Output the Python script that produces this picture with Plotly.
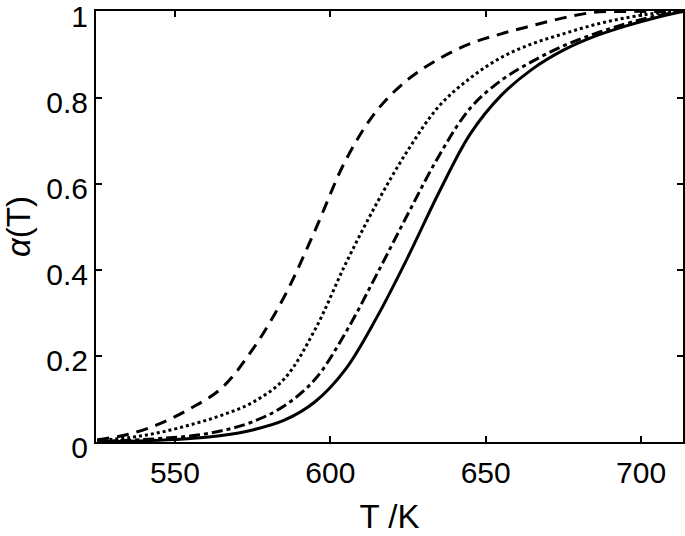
import plotly.graph_objects as go

# Temperature grid (K) and conversion alpha(T) for each curve
T = [525, 535, 545, 555, 565, 575, 585, 595, 605, 615, 625, 635, 645, 655, 665, 675, 685, 695, 705, 713.5]

alpha_dashed = [0.005, 0.018, 0.042, 0.078, 0.125, 0.215, 0.335, 0.490, 0.655, 0.770, 0.842,
                0.890, 0.925, 0.948, 0.967, 0.985, 0.998, 1.0, 1.0, 1.0]
alpha_dotted = [0.004, 0.010, 0.022, 0.040, 0.062, 0.092, 0.145, 0.260, 0.415, 0.555, 0.678,
                0.780, 0.845, 0.893, 0.925, 0.948, 0.969, 0.985, 0.996, 1.0]
alpha_dashdot = [0.002, 0.004, 0.008, 0.014, 0.026, 0.047, 0.083, 0.145, 0.255, 0.390, 0.530,
                 0.665, 0.775, 0.840, 0.884, 0.920, 0.948, 0.971, 0.990, 1.0]
alpha_solid = [0.001, 0.002, 0.004, 0.008, 0.015, 0.028, 0.050, 0.093, 0.170, 0.290, 0.430,
               0.580, 0.715, 0.805, 0.866, 0.910, 0.942, 0.966, 0.986, 1.0]

x_ticks = [550, 600, 650, 700]
y_ticks = [0, 0.2, 0.4, 0.6, 0.8, 1]
y_ticklabels = ["0", "0.2", "0.4", "0.6", "0.8", "1"]

FONT = "Liberation Sans, Arial, Helvetica, sans-serif"

fig = go.Figure()
series = [
    (alpha_solid, "solid"),
    (alpha_dashdot, "11px,4px,4px,4px"),
    (alpha_dotted, "3px,3px"),
    (alpha_dashed, "12px,8px"),
]
for ys, dash in series:
    fig.add_trace(go.Scatter(
        x=T, y=ys, mode="lines",
        line=dict(color="black", width=3, dash=dash, shape="spline", smoothing=1.0),
        showlegend=False, hoverinfo="skip",
    ))

axis_common = dict(
    showline=True, linecolor="black", linewidth=2, mirror="ticks",
    ticks="inside", ticklen=6, tickwidth=1.5, tickcolor="black",
    showgrid=False, zeroline=False, automargin=False,
    ticklabeloverflow="allow",
    tickfont=dict(family=FONT, size=30, color="black"),
)

fig.update_xaxes(
    range=[524.6, 713.5], tickvals=x_ticks, ticklabelstandoff=3,
    title=dict(text="T /K", font=dict(family=FONT, size=33, color="black"), standoff=17),
    **axis_common,
)
fig.update_yaxes(
    range=[0, 1.001], tickvals=y_ticks, ticktext=y_ticklabels, ticklabelstandoff=0,
    ticklabelshift=5,
    title=dict(text="<i>α</i>(T)", font=dict(family=FONT, size=33, color="black"), standoff=12),
    **axis_common,
)

fig.update_layout(
    width=685, height=536,
    margin=dict(l=96, r=2, t=11, b=94),
    paper_bgcolor="white", plot_bgcolor="white",
)

fig.write_html("out.html", config={"displayModeBar": False},
               post_script="document.body.style.margin='0';")
